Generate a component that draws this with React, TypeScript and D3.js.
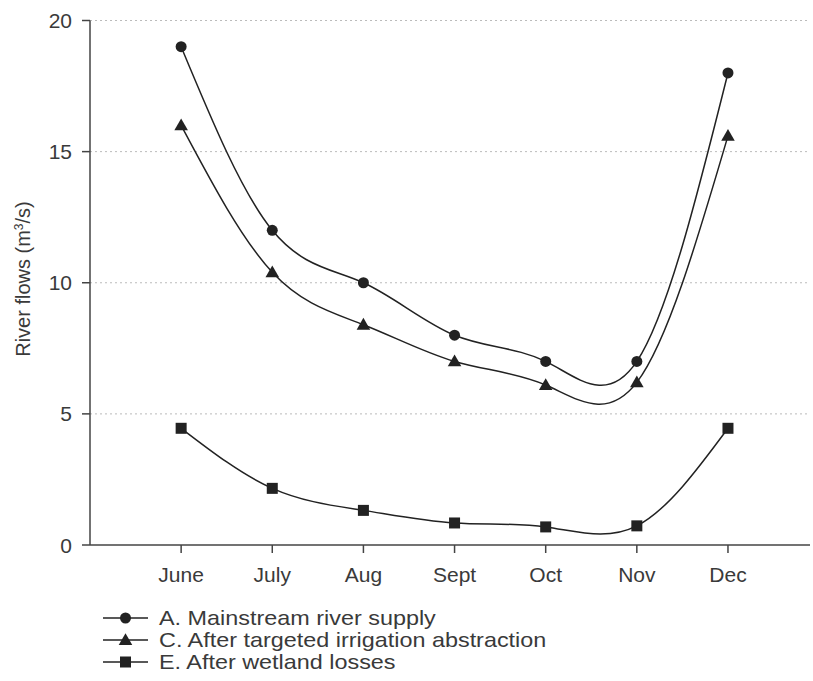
import React from 'react';
import * as d3 from 'd3';

const months = ['June', 'July', 'Aug', 'Sept', 'Oct', 'Nov', 'Dec'];
const mainstream = [19, 12, 10, 8, 7, 7, 18];
const irrigation = [16, 10.4, 8.4, 7.0, 6.1, 6.2, 15.6];
const wetland = [4.45, 2.16, 1.32, 0.84, 0.69, 0.73, 4.45];
const yTicks = [0, 5, 10, 15, 20];

const series = [
  { key: 'A', label: 'A. Mainstream river supply', values: mainstream, marker: 'circle' },
  { key: 'C', label: 'C. After targeted irrigation abstraction', values: irrigation, marker: 'triangle' },
  { key: 'E', label: 'E. After wetland losses', values: wetland, marker: 'square' },
];

const W = 813;
const H = 681;
const ink = '#222';
const textColor = '#3a3a3a';
const font = 'Liberation Sans, Arial, sans-serif';

const x = d3.scaleLinear().domain([-1, 6.9]).range([90, 810]);
const y = d3.scaleLinear().domain([0, 20]).range([545, 20.5]);

const Marker: React.FC<{ type: string; cx: number; cy: number }> = ({ type, cx, cy }) => {
  if (type === 'circle') return <circle cx={cx} cy={cy} r={5.5} fill={ink} />;
  if (type === 'triangle') {
    const sym = d3.symbol().type(d3.symbolTriangle).size(80)()!;
    return <path d={sym} transform={`translate(${cx},${cy + 1})`} fill={ink} />;
  }
  return <rect x={cx - 5.5} y={cy - 5.5} width={11} height={11} fill={ink} />;
};

export default function App() {
  // SigmaPlot-style spline through the points
  const line = d3
    .line<number>()
    .x((_, i) => x(i))
    .y((d) => y(d))
    .curve(d3.curveNatural);

  return (
    <svg
      width={W}
      height={H}
      style={{ position: 'absolute', left: 0, top: 0, background: '#fff' }}
      fontFamily={font}
    >
      {/* gridlines */}
      {yTicks.filter((t) => t > 0).map((t) => (
        <line key={t} x1={90} x2={810} y1={y(t)} y2={y(t)} stroke="#bbb" strokeWidth={1} strokeDasharray="2,3" />
      ))}
      {/* axes */}
      <line x1={90} x2={90} y1={y(20)} y2={y(0)} stroke="#444" strokeWidth={1.5} />
      <line x1={90} x2={810} y1={y(0)} y2={y(0)} stroke="#444" strokeWidth={1.5} />
      {yTicks.map((t) => (
        <g key={t}>
          <line x1={82} x2={90} y1={y(t)} y2={y(t)} stroke="#444" strokeWidth={1.5} />
          <text x={72} y={y(t)} dy="0.36em" textAnchor="end" fontSize={21} fill={textColor}>
            {t}
          </text>
        </g>
      ))}
      {months.map((m, i) => (
        <g key={m}>
          <line x1={x(i)} x2={x(i)} y1={y(0)} y2={y(0) + 8} stroke="#444" strokeWidth={1.5} />
          <text x={x(i)} y={582} textAnchor="middle" fontSize={21} fill={textColor}>
            {m}
          </text>
        </g>
      ))}
      <text transform={`translate(30,279) rotate(-90)`} textAnchor="middle" fontSize={20} fill={textColor}>
        River flows (m<tspan dy={-7} fontSize={12}>3</tspan>
        <tspan dy={7}>/s)</tspan>
      </text>
      {/* series */}
      {series.map((s) => (
        <g key={s.key}>
          <path d={line(s.values)!} fill="none" stroke={ink} strokeWidth={1.5} />
          {s.values.map((v, i) => (
            <Marker key={i} type={s.marker} cx={x(i)} cy={y(v)} />
          ))}
        </g>
      ))}
      {/* legend */}
      {series.map((s, i) => {
        const ly = 618 + i * 22;
        return (
          <g key={s.key}>
            <line x1={103} x2={148} y1={ly} y2={ly} stroke={ink} strokeWidth={1.5} />
            <Marker type={s.marker} cx={125.5} cy={ly} />
            <text
              transform={`translate(159,${ly}) scale(1.17,1)`}
              dy="0.36em"
              fontSize={20}
              fill={textColor}
            >
              {s.label}
            </text>
          </g>
        );
      })}
    </svg>
  );
}
